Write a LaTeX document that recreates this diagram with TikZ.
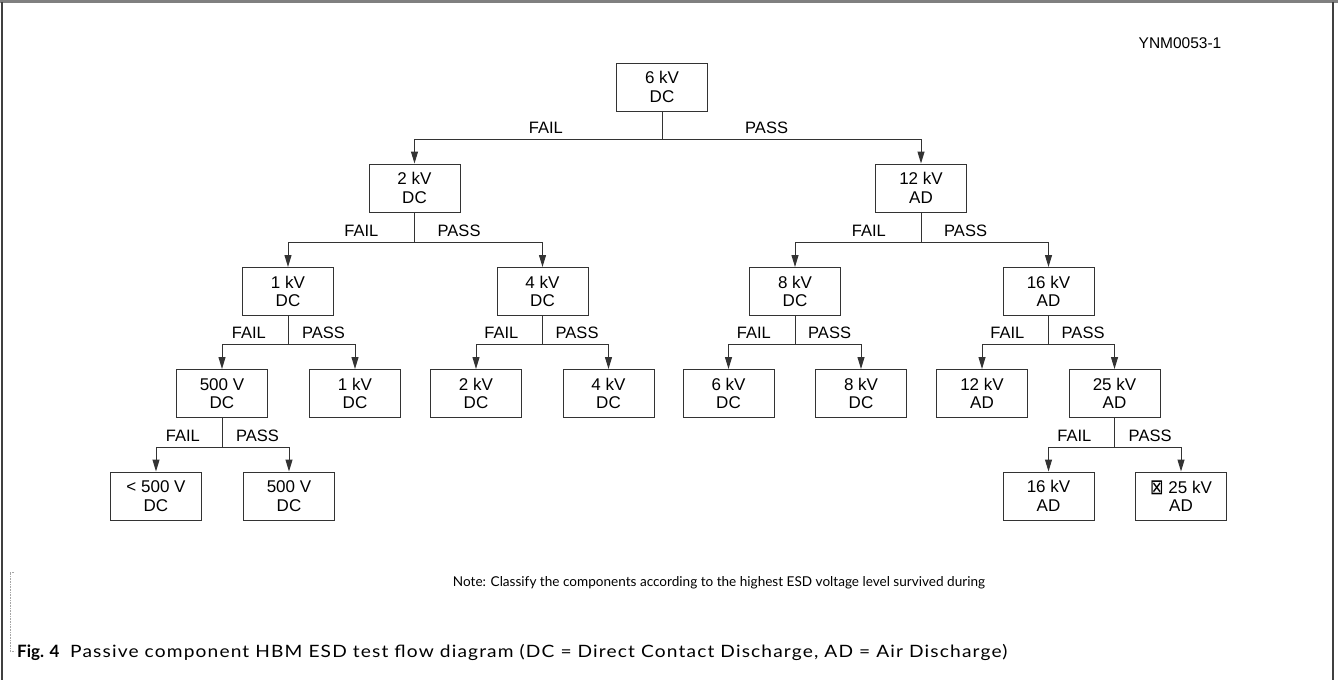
\documentclass[tikz,border=0pt]{standalone}
\usepackage{fontspec}
\setmainfont{Liberation Sans}
\newfontfamily\capfont{Lato}
\newfontfamily\capfontw[LetterSpace=6]{Lato}
\newfontfamily\symfont{DejaVu Sans}
\usetikzlibrary{arrows.meta,calc}
\newcommand\mybranch[5]{%
  \draw[arr] (#1.south) |- ($(#2.north)+(0,-24.5)$) -- (#2.north);
  \draw[arr] (#1.south) |- ($(#3.north)+(0,-24.5)$) -- (#3.north);
  \node[lab, anchor=base east] (#1fail) at ($(#1.south |- #2.north)+(-#4,-30.5)$) {FAIL};
  \node[lab, anchor=base west] (#1pass) at ($(#1.south |- #3.north)+(#5,-30.5)$) {PASS};
}
\begin{document}
\begin{tikzpicture}[x=1pt,y=-1pt,
  box/.style={draw=black!80, line width=1pt, minimum width=91pt, minimum height=48pt,
    align=center, inner sep=0pt, font=\fontsize{17}{18.5}\selectfont},
  lab/.style={font=\fontsize{16.5}{18}\selectfont, inner sep=0pt},
  arr/.style={draw=black!80, line width=1pt, -{Triangle[length=12pt,width=7pt]}},
  frameline/.style={draw=black!75, line width=1.2pt}]
\useasboundingbox (0,0) rectangle (1338,680);
\fill[white] (0,0) rectangle (1338,680);
\draw[gray, line width=2.5pt] (0,1.5) -- (1338,1.5);
\draw[frameline] (2,1.5) -- (2,680);
\draw[frameline] (1333,1.5) -- (1333,680);

\node[font=\fontsize{15.5}{17}\selectfont, inner sep=0pt] (code) at (1180,43) {YNM0053-1};

% level 1
\node[box] (a) at (662,87) {6 kV\\DC};
% level 2
\node[box] (b1) at (414.5,188) {2 kV\\DC};
\node[box] (b2) at (921,188) {12 kV\\AD};
% level 3
\node[box] (c1) at (288,291.5) {1 kV\\DC};
\node[box] (c2) at (542.5,291.5) {4 kV\\DC};
\node[box] (c3) at (795,291.5) {8 kV\\DC};
\node[box] (c4) at (1048.5,291.5) {16 kV\\AD};
% level 4
\node[box] (d1) at (222,393.5) {500 V\\DC};
\node[box] (d2) at (355,393.5) {1 kV\\DC};
\node[box] (d3) at (476,393.5) {2 kV\\DC};
\node[box] (d4) at (608.5,393.5) {4 kV\\DC};
\node[box] (d5) at (728.5,393.5) {6 kV\\DC};
\node[box] (d6) at (861,393.5) {8 kV\\DC};
\node[box] (d7) at (982,393.5) {12 kV\\AD};
\node[box] (d8) at (1114.5,393.5) {25 kV\\AD};
% level 5
\node[box] (e1) at (156,496) {< 500 V\\DC};
\node[box] (e2) at (289,496) {500 V\\DC};
\node[box] (e3) at (1048.5,496) {16 kV\\AD};
\node[box] (e4) at (1181,496) {\raisebox{-1pt}{\scalebox{0.95}[1.25]{\symfont\fontsize{17}{18}\selectfont ⊠}} 25 kV\\AD};

\mybranch{a}{b1}{b2}{99pt}{83pt}
\mybranch{b1}{c1}{c2}{36pt}{23pt}
\mybranch{b2}{c3}{c4}{35pt}{23pt}
\mybranch{c1}{d1}{d2}{22pt}{14pt}
\mybranch{c2}{d3}{d4}{24pt}{13pt}
\mybranch{c3}{d5}{d6}{24pt}{13pt}
\mybranch{c4}{d7}{d8}{24pt}{13pt}
\mybranch{d1}{e1}{e2}{22pt}{14pt}
\mybranch{d8}{e3}{e4}{23pt}{14pt}

\node[font=\capfont\fontsize{13}{15}\selectfont, inner sep=0pt] (note) at (719,583)
  {\resizebox{532pt}{!}{Note: Classify the components according to the highest ESD voltage level survived during}};

\draw[gray!70, densely dotted, line width=0.6pt] (14,572) -- (10,572) -- (10,651) -- (15,651);
\node[font=\capfont\bfseries\fontsize{17}{19}\selectfont, anchor=base west, inner sep=0pt] (fig) at (17,657) {Fig. 4};
\node[font=\capfontw\fontsize{17}{19}\selectfont, anchor=base west, inner sep=0pt] (cap) at (70,657)
  {\resizebox{937pt}{\height}{Passive component HBM ESD test flow diagram (DC = Direct Contact Discharge, AD = Air Discharge)}};
\end{tikzpicture}
\end{document}
